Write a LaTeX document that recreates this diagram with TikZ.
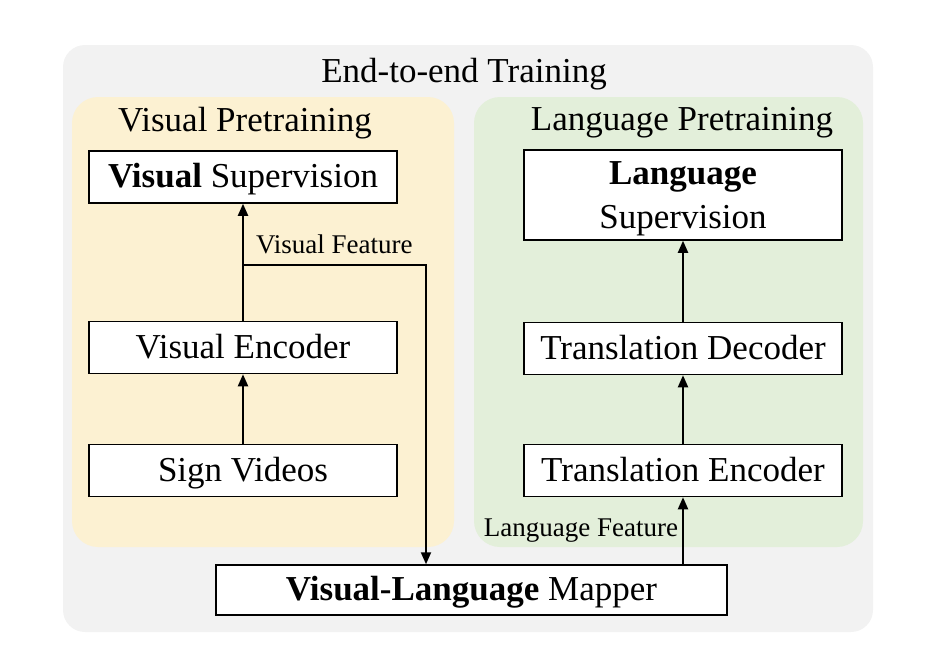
\documentclass[tikz,border=0pt]{standalone}
\usepackage{fontspec}
\setmainfont{Liberation Serif}
\usepackage{tikz}
\usetikzlibrary {arrows.meta,
                 positioning}
\definecolor{outergray}{HTML}{F2F2F2}
\definecolor{visyellow}{HTML}{FCF1D2}
\definecolor{langgreen}{HTML}{E3EFDA}
\tikzset{
        base/.style={draw, fill=white, line width=0.75pt, align=center,
                     inner sep=0pt, text height=13pt, text depth=2.5pt,
                     font=\fontsize{17.5}{20}\selectfont},
        proc/.style={base, rectangle, minimum width=154pt, minimum height=26pt},
        lproc/.style={base, rectangle, minimum width=159pt, minimum height=26pt},
        title/.style={font=\fontsize{17.5}{20}\selectfont, inner sep=0pt},
        lbl/.style={font=\fontsize{13.5}{16}\selectfont, inner sep=0pt},
        myarrow/.style={-{Triangle[length=6pt, width=5pt]}, line width=1pt},
 }

\begin{document}
\begin{tikzpicture}[x=0.5pt, y=-0.5pt]
    \useasboundingbox (0,0) rectangle (936,654);

    % background panels
    \fill[outergray, rounded corners=11pt] (63,45) rectangle (873,632);
    \fill[visyellow, rounded corners=13pt] (72,97) rectangle (454,547);
    \fill[langgreen, rounded corners=13pt] (474,97) rectangle (863,547);

    \node[title] (e2e) at (464,74) {End-to-end Training};
    \node[title] (vpt) at (245,123) {Visual Pretraining};
    \node[title] (lpt) at (682,123) {Language Pretraining};

    % visual branch
    \node[proc] (vs) at (243,177) {\textbf{Visual} Supervision};
    \node[proc] (ve) at (243,347.5) {Visual Encoder};
    \node[proc] (sv) at (243,470.5) {Sign Videos};

    % language branch
    \node[lproc, minimum height=45pt, text height=, text depth=0pt] (ls) at (683,195)
         {\textbf{Language}\\[2pt] Supervision};
    \node[lproc] (td) at (683,348.5) {Translation Decoder};
    \node[lproc] (te) at (683,470.5) {Translation Encoder};

    \node[base, minimum width=255.5pt, minimum height=25pt] (map) at (471.5,590)
         {\textbf{Visual-Language} Mapper};

    \coordinate (vf) at (243,265);
    \coordinate (vfx) at (426,265);

    \draw[myarrow] (sv) -- (ve);
    \draw[myarrow] (ve) -- (vs);
    \draw[myarrow] (vf) -- node[lbl, anchor=south west, at start,
                   xshift=6pt, yshift=5pt] (vflbl) {Visual Feature} (vfx) -- (vfx |- map.north);

    \draw[myarrow] (map.north -| te.south) -- node[lbl, anchor=east, xshift=-2pt]
                   (lflbl) {Language Feature} (te.south);
    \draw[myarrow] (te) -- (td);
    \draw[myarrow] (td) -- (ls);
\end{tikzpicture}
\end{document}
